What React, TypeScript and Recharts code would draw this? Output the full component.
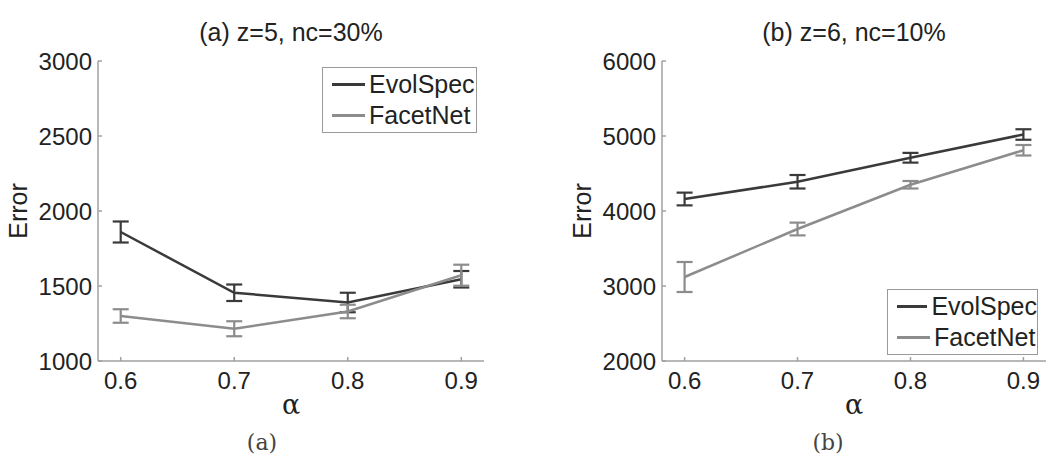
import React from "react"
import { ErrorBar, Line, LineChart, XAxis, YAxis } from "recharts"

// alpha values on the x axis
const alphas = [0.6, 0.7, 0.8, 0.9]

// panel (a): z=5, nc=30%
const evolSpecA = [1860, 1455, 1390, 1545]
const evolSpecErrA = [70, 55, 65, 55]
const facetNetA = [1300, 1215, 1330, 1572]
const facetNetErrA = [45, 50, 45, 70]
const yTicksA = [1000, 1500, 2000, 2500, 3000]

// panel (b): z=6, nc=10%
const evolSpecB = [4160, 4390, 4710, 5020]
const evolSpecErrB = [85, 90, 65, 70]
const facetNetB = [3120, 3760, 4350, 4810]
const facetNetErrB = [200, 85, 50, 70]
const yTicksB = [2000, 3000, 4000, 5000, 6000]

const seriesNames = ["EvolSpec", "FacetNet"]

const DARK = "#3a3a3a"
const LIGHT = "#8c8c8c"
const AXIS = "#a0a0a0"
const FONT = "'Liberation Sans', Arial, Helvetica, sans-serif"
const SERIF = "'DejaVu Serif', 'Liberation Serif', serif"

function buildRows(evol: number[], evolErr: number[], facet: number[], facetErr: number[]) {
  return alphas.map((a, i) => ({
    alpha: a,
    evol: evol[i],
    evolErr: evolErr[i],
    facet: facet[i],
    facetErr: facetErr[i],
  }))
}

// boxed legend, placed by hand so it doesn't eat into the plot area
function LegendBox({ left, top, width }: { left: number; top: number; width: number }) {
  const row = (color: string, text: string) => (
    <div key={text} style={{ display: "flex", alignItems: "center", height: 31 }}>
      <div style={{ width: 33, height: 3, background: color, marginRight: 4 }} />
      <span>{text}</span>
    </div>
  )
  return (
    <div
      style={{
        position: "absolute",
        left,
        top,
        width,
        border: "1.5px solid #9a9a9a",
        background: "#fff",
        boxSizing: "border-box",
        padding: "1px 0 1px 9px",
        fontFamily: FONT,
        fontSize: 25,
        color: "#222",
        lineHeight: 1,
      }}
    >
      {row(DARK, seriesNames[0])}
      {row(LIGHT, seriesNames[1])}
    </div>
  )
}

type PanelProps = {
  left: number
  title: string
  caption: string
  rows: ReturnType<typeof buildRows>
  yDomain: [number, number]
  yTicks: number[]
  marginLeft: number
  marginRight: number
  legendPos: { left: number; top: number; width: number }
  captionX: number
}

function Panel(p: PanelProps) {
  const plotLeft = p.marginLeft + 80
  const plotRight = 528 - p.marginRight
  const center = (plotLeft + plotRight) / 2
  return (
    <div style={{ position: "absolute", left: p.left, top: 0, width: 528, height: 458 }}>
      <div
        style={{
          position: "absolute",
          left: center - 150,
          width: 300,
          top: 18,
          textAlign: "center",
          fontFamily: FONT,
          fontSize: 25,
          color: "#222",
        }}
      >
        {p.title}
      </div>
      <LineChart
        width={528}
        height={458}
        data={p.rows}
        margin={{ top: 61, right: p.marginRight, bottom: 37, left: p.marginLeft }}
      >
        <XAxis
          dataKey="alpha"
          type="number"
          domain={[0.58, 0.92]}
          ticks={alphas}
          tickFormatter={(v: number) => v.toFixed(1)}
          height={60}
          stroke={AXIS}
          strokeWidth={1.5}
          tickSize={-4}
          tickMargin={15}
          tick={{ fill: "#222", fontSize: 24, fontFamily: FONT }}
          label={{
            value: "α",
            position: "insideBottom",
            offset: 7,
            style: { fill: "#222", fontSize: 27, fontFamily: SERIF },
          }}
        />
        <YAxis
          type="number"
          domain={p.yDomain}
          ticks={p.yTicks}
          width={80}
          stroke={AXIS}
          strokeWidth={1.5}
          tickSize={-4}
          tickMargin={10}
          tick={{ fill: "#222", fontSize: 24, fontFamily: FONT }}
          label={{
            value: "Error",
            angle: -90,
            position: "insideLeft",
            offset: 0,
            style: { textAnchor: "middle", fill: "#222", fontSize: 25, fontFamily: FONT },
          }}
        />
        <Line
          dataKey="evol"
          name={seriesNames[0]}
          type="linear"
          stroke={DARK}
          strokeWidth={2.5}
          dot={false}
          isAnimationActive={false}
        >
          <ErrorBar dataKey="evolErr" width={8} stroke={DARK} strokeWidth={2.2} direction="y" />
        </Line>
        <Line
          dataKey="facet"
          name={seriesNames[1]}
          type="linear"
          stroke={LIGHT}
          strokeWidth={2.5}
          dot={false}
          isAnimationActive={false}
        >
          <ErrorBar dataKey="facetErr" width={8} stroke={LIGHT} strokeWidth={2.2} direction="y" />
        </Line>
      </LineChart>
      <LegendBox {...p.legendPos} />
      <div
        style={{
          position: "absolute",
          left: p.captionX - 40,
          width: 80,
          top: 430,
          textAlign: "center",
          fontFamily: SERIF,
          fontSize: 22,
          color: "#444",
        }}
      >
        {p.caption}
      </div>
    </div>
  )
}

export default function App() {
  const rowsA = buildRows(evolSpecA, evolSpecErrA, facetNetA, facetNetErrA)
  const rowsB = buildRows(evolSpecB, evolSpecErrB, facetNetB, facetNetErrB)
  return (
    <div style={{ position: "absolute", left: 0, top: 0, width: 1056, height: 458, background: "#fff" }}>
      <Panel
        left={0}
        title="(a) z=5, nc=30%"
        caption="(a)"
        rows={rowsA}
        yDomain={[1000, 3000]}
        yTicks={yTicksA}
        marginLeft={18}
        marginRight={44}
        legendPos={{ left: 322, top: 67, width: 155 }}
        captionX={262}
      />
      <Panel
        left={528}
        title="(b) z=6, nc=10%"
        caption="(b)"
        rows={rowsB}
        yDomain={[2000, 6000]}
        yTicks={yTicksB}
        marginLeft={54}
        marginRight={10}
        legendPos={{ left: 359, top: 289, width: 151 }}
        captionX={300}
      />
    </div>
  )
}
